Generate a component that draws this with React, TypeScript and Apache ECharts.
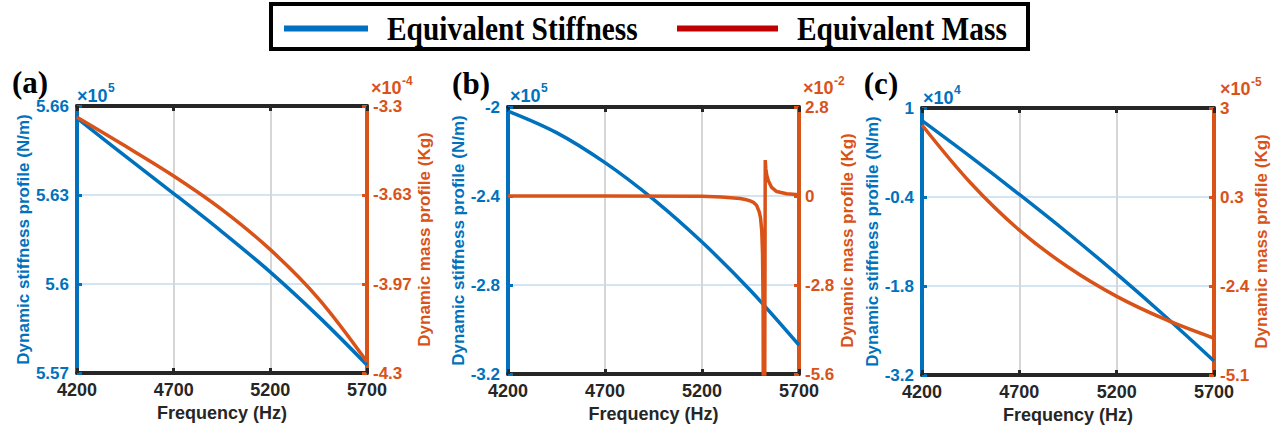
import React, { useEffect, useRef } from 'react';
import * as echarts from 'echarts';

// ---------- data ----------
const freqTicks = [4200, 4700, 5200, 5700];
const freqTickLabels = ['4200', '4700', '5200', '5700'];

// Panel (a)
const freqA = [4200, 4450, 4700, 4950, 5200, 5450, 5700];
const stiffA = [5.6559, 5.6431, 5.6305, 5.6176, 5.604, 5.589, 5.5727]; // x1e5 N/m
const massA = [-3.342, -3.45, -3.562, -3.688, -3.838, -4.022, -4.258]; // x1e-4 Kg
const stiffTicksA = [5.57, 5.6, 5.63, 5.66];
const stiffLabelsA = ['5.57', '5.6', '5.63', '5.66'];
const massTicksA = [-4.3, -3.9667, -3.6333, -3.3];
const massLabelsA = ['-4.3', '-3.97', '-3.63', '-3.3'];

// Panel (b)
const freqB = [4200, 4450, 4700, 4950, 5200, 5450, 5700];
const stiffB = [-2.018, -2.115, -2.25, -2.415, -2.607, -2.825, -3.07]; // x1e5 N/m
const freqMassB = [4200, 4700, 5200, 5300, 5396, 5430, 5447, 5465, 5482, 5495, 5502, 5508, 5512, 5515, 5517, 5522, 5526, 5529, 5534, 5542, 5559, 5585, 5636, 5700];
const massB = [0, 0, -0.01, -0.03, -0.08, -0.12, -0.15, -0.2, -0.3, -0.5, -0.7, -1.1, -1.8, -3.5, -10, -10, 1.13, 0.85, 0.65, 0.48, 0.27, 0.14, 0.07, 0.04]; // x1e-2 Kg
const stiffTicksB = [-3.2, -2.8, -2.4, -2];
const stiffLabelsB = ['-3.2', '-2.8', '-2.4', '-2'];
const massTicksB = [-5.6, -2.8, 0, 2.8];
const massLabelsB = ['-5.6', '-2.8', '0', '2.8'];

// Panel (c)
const freqC = [4200, 4450, 4700, 4950, 5200, 5450, 5700];
const stiffC = [0.8, 0.23, -0.36, -0.97, -1.61, -2.28, -2.98]; // x1e4 N/m
const massC = [2.485, 0.725, -0.705, -1.825, -2.715, -3.415, -3.985]; // x1e-5 Kg
const stiffTicksC = [-3.2, -1.8, -0.4, 1];
const stiffLabelsC = ['-3.2', '-1.8', '-0.4', '1'];
const massTicksC = [-5.1, -2.4, 0.3, 3];
const massLabelsC = ['-5.1', '-2.4', '0.3', '3'];

const seriesNames = ['Equivalent Stiffness', 'Equivalent Mass'];
const xName = 'Frequency (Hz)';
const leftName = 'Dynamic stiffness profile (N/m)';
const rightName = 'Dynamic mass profile (Kg)';
const panelLetters = ['(a)', '(b)', '(c)'];
const leftExp = ['5', '5', '4'];
const rightExp = ['-4', '-2', '-5'];

// ---------- styles ----------
const BLUE = '#0072BD';
const ORANGE = '#D95319';
const DARK = '#262626';
const SANS = 'Liberation Sans, Arial, sans-serif';
const SERIF = 'Liberation Serif, Times New Roman, serif';
const SMOOTH = 0.35;

const panels = [
  {
    grid: { left: 77, top: 106, width: 290, height: 267 },
    stiffX: freqA, stiff: stiffA, massX: freqA, mass: massA, smoothMass: SMOOTH,
    lt: stiffTicksA, ll: stiffLabelsA, rt: massTicksA, rl: massLabelsA,
    leftGap: 44, rightGap: 46,
    lExp: { x: 77, y: 96 }, rExp: { x: 371, y: 88 }, letter: { x: 30, y: 82 },
  },
  {
    grid: { left: 508, top: 107, width: 291, height: 267 },
    stiffX: freqB, stiff: stiffB, massX: freqMassB, mass: massB, smoothMass: false,
    lt: stiffTicksB, ll: stiffLabelsB, rt: massTicksB, rl: massLabelsB,
    leftGap: 38, rightGap: 40,
    lExp: { x: 510, y: 96 }, rExp: { x: 803, y: 88 }, letter: { x: 471, y: 83 },
  },
  {
    grid: { left: 922, top: 108, width: 292, height: 267 },
    stiffX: freqC, stiff: stiffC, massX: freqC, mass: massC, smoothMass: SMOOTH,
    lt: stiffTicksC, ll: stiffLabelsC, rt: massTicksC, rl: massLabelsC,
    leftGap: 38, rightGap: 38,
    lExp: { x: 923, y: 98 }, rExp: { x: 1220, y: 89 }, letter: { x: 881, y: 83 },
  },
];

const labelFor = (ticks: number[], labels: string[]) => (v: number) => {
  let best = 0;
  for (let i = 1; i < ticks.length; i++) {
    if (Math.abs(ticks[i] - v) < Math.abs(ticks[best] - v)) best = i;
  }
  return labels[best];
};

const txt = (text: string, x: number, y: number, size: number, color: string, family: string, align = 'left', extra: any = {}) => ({
  type: 'text', x, y, z: 100, ...extra,
  style: {
    text, fontSize: size, fontWeight: 'bold', fontFamily: family, fill: color,
    textAlign: align, textVerticalAlign: 'middle',
  },
});

function buildOption() {
  const grid: any[] = [];
  const xAxis: any[] = [];
  const yAxis: any[] = [];
  const series: any[] = [];
  const graphic: any[] = [];

  panels.forEach((p, i) => {
    grid.push({ ...p.grid, containLabel: false, outerBoundsMode: 'none' });
    xAxis.push({
      type: 'value', gridIndex: i, position: 'bottom', min: 4200, max: 5700,
      name: xName, nameLocation: 'middle', nameGap: 27,
      nameTextStyle: { color: DARK, fontSize: 18, fontWeight: 'bold', fontFamily: SANS },
      axisLine: { show: true, onZero: false, lineStyle: { color: DARK, width: 4 } },
      axisTick: { show: true, inside: true, length: 5, customValues: freqTicks, lineStyle: { color: DARK, width: 3 } },
      axisLabel: {
        show: true, customValues: freqTicks, margin: 8, color: DARK, fontSize: 18, fontWeight: 'bold', fontFamily: SANS,
        formatter: labelFor(freqTicks, freqTickLabels),
      },
      splitLine: { show: true, lineStyle: { color: '#d6d6d6', width: 2 } },
    });
    xAxis.push({
      type: 'value', gridIndex: i, position: 'top', min: 4200, max: 5700,
      axisLine: { show: true, onZero: false, lineStyle: { color: DARK, width: 4 } },
      axisTick: { show: true, inside: true, length: 5, customValues: freqTicks, lineStyle: { color: DARK, width: 3 } },
      axisLabel: { show: false },
      splitLine: { show: false },
    });
    yAxis.push({
      type: 'value', gridIndex: i, position: 'left', min: p.lt[0], max: p.lt[p.lt.length - 1],
      name: leftName, nameLocation: 'middle', nameGap: p.leftGap, nameRotate: 90,
      nameTextStyle: { color: BLUE, fontSize: 17, fontWeight: 'bold', fontFamily: SANS },
      axisLine: { show: true, onZero: false, lineStyle: { color: BLUE, width: 4 } },
      axisTick: { show: true, inside: true, length: 5, customValues: p.lt, lineStyle: { color: BLUE, width: 3 } },
      axisLabel: {
        show: true, customValues: p.lt, margin: 8, color: BLUE, fontSize: 17, fontWeight: 'bold', fontFamily: SANS,
        formatter: labelFor(p.lt, p.ll),
      },
      splitLine: { show: true, lineStyle: { color: '#d3e5f2', width: 2 } },
    });
    yAxis.push({
      type: 'value', gridIndex: i, position: 'right', min: p.rt[0], max: p.rt[p.rt.length - 1],
      name: rightName, nameLocation: 'middle', nameGap: p.rightGap, nameRotate: 90,
      nameTextStyle: { color: ORANGE, fontSize: 17, fontWeight: 'bold', fontFamily: SANS },
      axisLine: { show: true, onZero: false, lineStyle: { color: ORANGE, width: 4 } },
      axisTick: { show: true, inside: true, length: 5, customValues: p.rt, lineStyle: { color: ORANGE, width: 3 } },
      axisLabel: {
        show: true, customValues: p.rt, margin: 6, color: ORANGE, fontSize: 17, fontWeight: 'bold', fontFamily: SANS,
        formatter: labelFor(p.rt, p.rl),
      },
      splitLine: { show: false },
    });

    series.push({
      type: 'line', name: seriesNames[0], xAxisIndex: 2 * i, yAxisIndex: 2 * i,
      data: p.stiffX.map((f, k) => [f, p.stiff[k]]),
      smooth: SMOOTH, showSymbol: false, symbol: 'none', silent: true, z: 3,
      lineStyle: { color: BLUE, width: 3.5 }, itemStyle: { color: BLUE },
    });
    series.push({
      type: 'line', name: seriesNames[1], xAxisIndex: 2 * i, yAxisIndex: 2 * i + 1,
      data: p.massX.map((f, k) => [f, p.mass[k]]),
      smooth: p.smoothMass, showSymbol: false, symbol: 'none', silent: true, z: 4,
      lineStyle: { color: ORANGE, width: 3.5 }, itemStyle: { color: ORANGE },
    });

    graphic.push(txt(panelLetters[i], p.letter.x, p.letter.y, 31, '#000', SERIF, 'center'));
    graphic.push(txt('×10', p.lExp.x, p.lExp.y, 18, BLUE, SANS));
    graphic.push(txt(leftExp[i], p.lExp.x + 31, p.lExp.y - 8, 12, BLUE, SANS));
    graphic.push(txt('×10', p.rExp.x, p.rExp.y, 18, ORANGE, SANS));
    graphic.push(txt(rightExp[i], p.rExp.x + 31, p.rExp.y - 7, 12, ORANGE, SANS));
  });

  // legend box
  graphic.push({
    type: 'rect', z: 90,
    shape: { x: 271, y: 4, width: 757, height: 45 },
    style: { fill: '#fff', stroke: '#000', lineWidth: 4 },
  });
  graphic.push({
    type: 'line', z: 91,
    shape: { x1: 284, y1: 28.5, x2: 368, y2: 28.5 },
    style: { stroke: '#0070C0', lineWidth: 6 },
  });
  graphic.push(txt(seriesNames[0], 387, 29, 34, '#000', SERIF, 'left', { scaleX: 0.865 }));
  graphic.push({
    type: 'line', z: 91,
    shape: { x1: 677, y1: 28.5, x2: 778, y2: 28.5 },
    style: { stroke: '#C00000', lineWidth: 6 },
  });
  graphic.push(txt(seriesNames[1], 797, 29, 34, '#000', SERIF, 'left', { scaleX: 0.865 }));

  return {
    animation: false,
    backgroundColor: '#fff',
    grid, xAxis, yAxis, series, graphic,
  };
}

export default function App() {
  const ref = useRef<HTMLDivElement>(null);
  useEffect(() => {
    if (!ref.current) return;
    const chart = echarts.init(ref.current, undefined, { renderer: 'svg' });
    chart.setOption(buildOption() as any);
    return () => chart.dispose();
  }, []);
  return (
    <div
      ref={ref}
      style={{ position: 'absolute', left: 0, top: 0, width: 1281, height: 428, background: '#fff' }}
    />
  );
}
